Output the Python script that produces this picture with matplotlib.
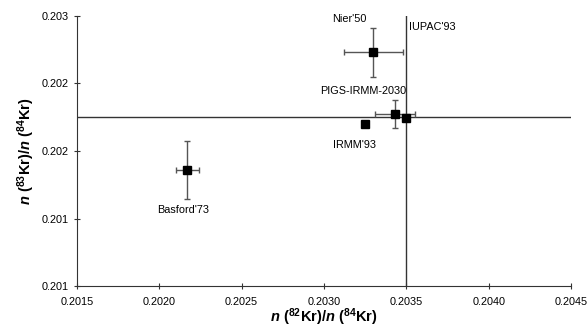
import matplotlib
matplotlib.use("Agg")
import matplotlib.pyplot as plt

plt.rcParams['font.family'] = ['Liberation Sans', 'DejaVu Sans']
plt.rcParams['mathtext.fontset'] = 'custom'
plt.rcParams['mathtext.rm'] = 'Liberation Sans:bold'
plt.rcParams['mathtext.bf'] = 'Liberation Sans:bold'
plt.rcParams['mathtext.it'] = 'Liberation Sans:italic:bold'

# measurements: n(82Kr)/n(84Kr) vs n(83Kr)/n(84Kr)
labels = ["Nier'50", "PIGS-IRMM-2030", "IUPAC'93", "IRMM'93", "Basford'73"]
x82 = [0.20330, 0.20343, 0.20350, 0.20325, 0.20217]
y83 = [0.20273, 0.20227, 0.20224, 0.20220, 0.20186]
xerr = [0.00018, 0.00012, 0.0, 0.0, 0.000068]
yerr = [0.00018, 0.000104, 0.0, 0.0, 0.000215]

# IUPAC'93 reference lines
iupac_x = 0.20350
iupac_y = 0.20225

xticks = [0.2015, 0.2020, 0.2025, 0.2030, 0.2035, 0.2040, 0.2045]
yticks = [0.2010, 0.2015, 0.2020, 0.2025, 0.2030]
ytick_labels = ['0.201', '0.201', '0.202', '0.202', '0.203']

# label offsets in points
offsets = {
    "Nier'50": (-17, 24, 'center'),
    "PIGS-IRMM-2030": (-23, 17, 'center'),
    "IUPAC'93": (2, 66, 'left'),
    "IRMM'93": (-8, -15, 'center'),
    "Basford'73": (-3, -29, 'center'),
}

fig = plt.figure(figsize=(5.88, 3.27), dpi=100)
ax = fig.add_axes([0.131, 0.125, 0.84, 0.827])

ax.axhline(iupac_y, color='#333333', lw=1, zorder=1)
ax.axvline(iupac_x, color='#333333', lw=1, zorder=1)

for i in range(len(labels)):
    if xerr[i] > 0 or yerr[i] > 0:
        ax.errorbar(x82[i], y83[i], xerr=xerr[i], yerr=yerr[i], fmt='none',
                    ecolor='#555555', elinewidth=1, capsize=2.5, capthick=1, zorder=2)
ax.plot(x82, y83, 's', color='black', markersize=6, zorder=3)

for i, lab in enumerate(labels):
    dx, dy, ha = offsets[lab]
    ax.annotate(lab, (x82[i], y83[i]), xytext=(dx, dy), textcoords='offset points',
                ha=ha, va='center', fontsize=7.8)

ax.set_xlim(0.2015, 0.2045)
ax.set_ylim(0.2010, 0.2030)
ax.set_xticks(xticks)
ax.set_xticklabels(['%.4f' % v for v in xticks])
ax.set_yticks(yticks)
ax.set_yticklabels(ytick_labels)
ax.tick_params(direction='inout', length=5, width=0.8, labelsize=7.8, color='#333333')
ax.tick_params(axis='x', pad=5)

for s in ['top', 'right']:
    ax.spines[s].set_visible(False)
for s in ['left', 'bottom']:
    ax.spines[s].set_color('#333333')
    ax.spines[s].set_linewidth(0.8)

ax.set_xlabel(r'$\mathit{n}\ (^{82}\mathrm{Kr})/\mathit{n}\ (^{84}\mathrm{Kr})$', fontsize=10.5)
ax.xaxis.set_label_coords(0.5, -0.075)
ax.set_ylabel(r'$\mathit{n}\ (^{83}\mathrm{Kr})/\mathit{n}\ (^{84}\mathrm{Kr})$', fontsize=10.5, labelpad=3)

fig.savefig('out.png', dpi=100)
